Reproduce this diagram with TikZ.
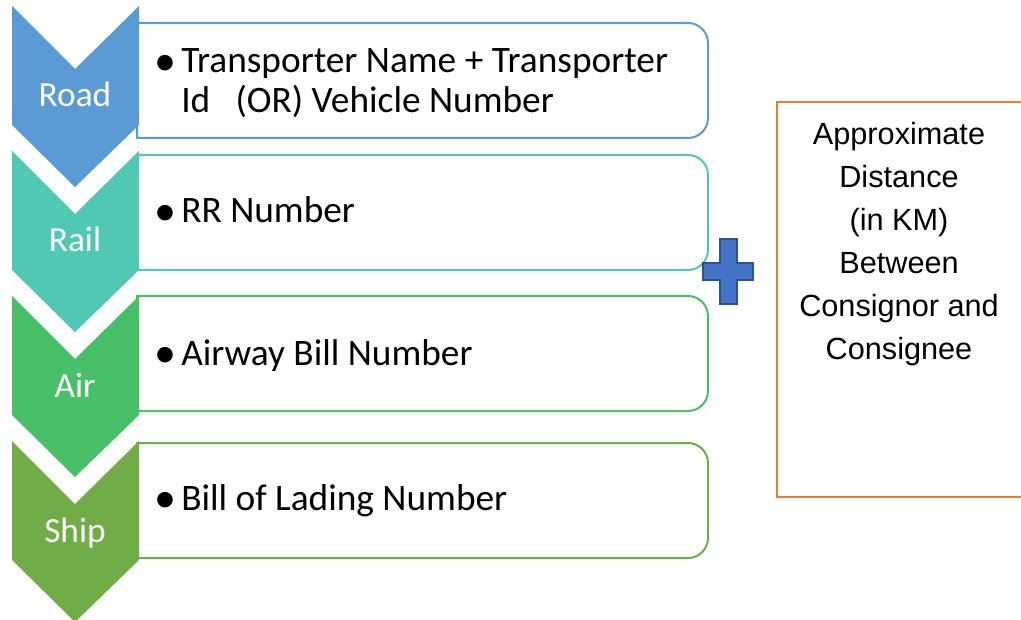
\documentclass[tikz,border=0pt]{standalone}
\usepackage{fontspec}
\setmainfont{Carlito}
\newfontfamily\arialfont{Liberation Sans}
\definecolor{roadc}{HTML}{5B9BD5}
\definecolor{railc}{HTML}{51C8B4}
\definecolor{airc}{HTML}{48BF69}
\definecolor{shipc}{HTML}{70AD47}
\definecolor{orangec}{HTML}{ED7D31}
\definecolor{plusfill}{HTML}{4472C4}
\definecolor{plusline}{HTML}{2F528F}
% bullet mark set a little larger than the item text
\newcommand{\itembullet}{\llap{\makebox[23.25pt][c]{\raisebox{-1.6pt}{\fontsize{33pt}{33pt}\selectfont •}}}}
\begin{document}
\begin{tikzpicture}[x=0.75pt,y=-0.75pt,
  modelabel/.style={text=white,font=\fontsize{26.5pt}{30pt}\selectfont,inner sep=0pt,anchor=base},
  itemtext/.style={font=\fontsize{28pt}{30pt}\selectfont,inner sep=0pt,anchor=base west,align=left},
  itembox/.style={line width=1.5pt},
  sidetext/.style={font=\arialfont\fontsize{23pt}{32.2pt}\selectfont,align=center,inner sep=0pt,anchor=north}]
\useasboundingbox (0,0) rectangle (1021,620);
\fill[white] (0,0) rectangle (1021,620);

% detail boxes: square on the left, rounded on the right
\draw[itembox,roadc] (137,23) [rounded corners=15] -- (708,23) -- (708,138) [sharp corners] -- (137,138) -- cycle;
\draw[itembox,railc] (137,155) [rounded corners=15] -- (708,155) -- (708,270) [sharp corners] -- (137,270) -- cycle;
\draw[itembox,airc] (137,296) [rounded corners=15] -- (708,296) -- (708,411) [sharp corners] -- (137,411) -- cycle;
\draw[itembox,shipc] (137,443) [rounded corners=15] -- (708,443) -- (708,558) [sharp corners] -- (137,558) -- cycle;

% chevrons for the transport modes
\foreach \y/\c in {6/roadc,151/railc,296/airc,441/shipc}{
  \fill[\c] (12,\y) -- (75,\y+63) -- (139,\y) -- (139,\y+119) -- (75,\y+181) -- (12,\y+119) -- cycle;
}
\node[modelabel] (road) at (75,107) {Road};
\node[modelabel] (rail) at (75,252) {Rail};
\node[modelabel] (air) at (75,397) {Air};
\node[modelabel] (ship) at (75,542) {Ship};

% bullet texts
\node[itemtext] (roadtxt) at (181,113) {\itembullet Transporter Name + Transporter\\Id\ \ \ (OR) Vehicle Number};
\node[itemtext] (railtxt) at (181,223) {\itembullet RR Number};
\node[itemtext] (airtxt) at (181,365) {\itembullet Airway Bill Number};
\node[itemtext] (shiptxt) at (181,510) {\itembullet Bill of Lading Number};

% plus sign
\draw[fill=plusfill,draw=plusline,line width=1.2pt]
  (720,239) -- (737,239) -- (737,263) -- (753,263) -- (753,280) -- (737,280)
  -- (737,304) -- (720,304) -- (720,280) -- (703,280) -- (703,263) -- (720,263) -- cycle;
\node[inner sep=0pt] (plus) at (728,271) {};

% distance box
\draw[orangec,line width=1.5pt] (1040,102) -- (777,102) -- (777,497) -- (1040,497);
\node[sidetext] (dist) at (899,122) {Approximate\\Distance\\(in KM)\\Between\\Consignor and\\Consignee};
\end{tikzpicture}
\end{document}
